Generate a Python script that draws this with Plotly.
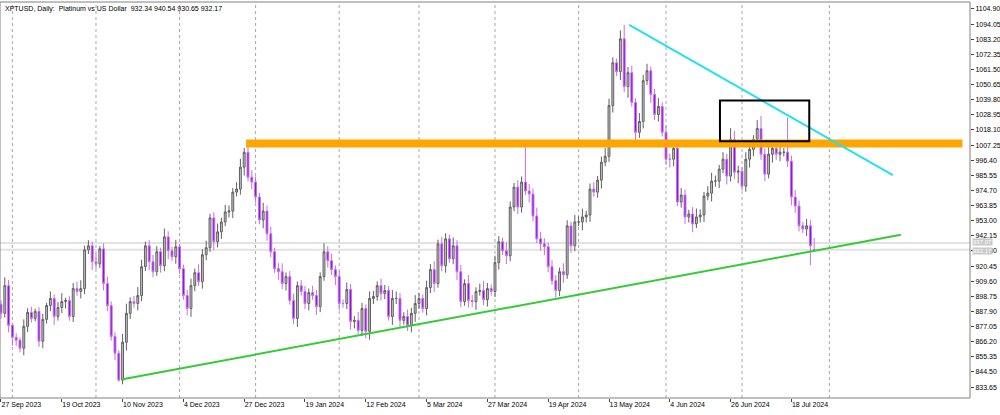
import plotly.graph_objects as go

closes = [
 886.5,906.4,877.9,869.3,867.2,861.5,877.2,887.2,882.9,887.9,
 866.5,882.2,892.1,897.2,884.3,890.7,895.0,895.7,884.3,904.3,
 902.2,904.3,932.1,935.0,923.6,922.1,932.8,907.9,892.1,870.0,
 857.9,838.6,865.8,886.5,895.0,893.6,899.3,920.0,935.0,923.6,
 916.4,930.7,920.7,941.4,931.4,927.1,934.3,918.6,899.3,890.0,
 906.4,915.7,909.3,928.6,933.6,955.0,937.9,945.0,952.1,959.3,
 959.9,973.5,975.7,991.4,1002.1,984.2,980.7,970.0,953.5,959.9,
 943.6,930.7,918.6,916.4,907.9,912.9,895.7,882.9,906.4,902.2,
 893.6,901.4,899.3,891.4,912.9,930.7,924.3,917.9,912.9,893.6,
 893.6,903.6,880.7,881.5,874.3,890.0,873.6,897.2,898.6,906.4,
 900.7,902.9,884.3,897.2,897.2,881.5,884.3,877.9,886.5,893.6,
 897.2,890.0,905.0,917.9,907.9,936.4,920.7,940.0,925.7,935.0,
 916.4,895.0,907.9,895.7,895.0,902.2,902.9,896.4,904.3,902.2,
 922.9,937.9,931.4,927.9,962.8,977.1,962.8,980.7,974.3,972.1,
 956.4,940.0,936.4,934.3,920.0,910.0,902.9,916.4,914.3,949.3,
 935.0,952.1,952.1,955.7,957.1,975.7,973.5,982.1,995.0,999.2,
 1035.6,1066.3,1059.9,1083.5,1049.2,1059.2,1037.8,1016.4,1024.2,1053.5,
 1060.6,1043.5,1029.2,1034.9,1016.4,997.1,997.1,1004.9,966.4,971.4,
 955.7,957.8,950.7,955.7,957.1,970.7,972.8,981.4,981.4,990.0,
 997.1,985.0,1011.4,987.8,988.5,977.8,997.1,1004.2,1011.4,1019.2,
 1000.7,986.4,1000.7,1004.9,1000.7,1002.1,1002.1,995.7,970.0,963.5,
 949.3,947.1,949.3,935.0,932.17]

upper_wick = [
 3,6,4,2,3,2,5,3,4,2, 3,4,2,5,3,4,6,2,3,4, 5,6,3,4,3,6,2,4,5,3,
 3,2,6,7,3,4,6,5,3,4, 5,4,3,6,4,3,5,2,3,4, 5,3,6,4,5,3,4,6,3,5,
 4,3,5,6,3,7,5,4,3,6, 4,5,3,4,6,3,4,5,3,4, 4,3,5,4,3,6,4,5,3,4,
 3,5,4,3,6,4,3,5,4,3, 5,4,3,6,5,4,3,5,4,6, 4,3,5,4,6,3,5,4,3,6,
 4,5,3,6,4,3,5,7,4,3, 5,4,3,6,4,3,5,4,25,5, 4,6,5,4,3,5,4,3,6,4,
 3,5,4,6,3,4,5,3,4,6, 5,4,3,6,10,4,5,3,6,4, 5,3,4,6,3,5,4,6,3,5,
 4,3,5,6,4,3,5,6,4,3, 5,4,8,6,4,3,5,4,3,6, 9,4,5,3,6,4,3,25,4,5,
 4,3,5,4,8.2]
lower_wick = [
 4,3,5,6,4,3,5,4,3,2, 4,5,3,4,6,3,4,5,3,4, 3,5,4,3,6,4,3,5,4,3,
 5,1,3,6,4,3,5,4,3,6, 4,3,5,4,6,3,5,4,3,5, 6,4,3,5,4,3,6,4,5,3,
 4,5,3,4,6,3,5,4,3,6, 5,4,3,6,4,5,3,4,6,3, 4,5,3,6,4,3,5,4,6,5,
 3,4,6,5,3,4,5,6,4,3, 5,4,3,6,4,5,3,4,5,6, 4,3,5,4,6,3,4,5,3,4,
 6,4,3,5,4,6,3,4,5,3, 4,5,3,6,4,3,5,4,3,6, 4,3,5,6,4,3,5,4,6,3,
 5,4,3,6,4,5,3,4,6,3, 4,5,3,6,4,8,3,9,4,5, 3,6,4,5,3,4,6,5,3,4,
 5,4,6,3,4,5,3,6,4,5, 3,6,4,5,8,3,4,6,5,3, 4,5,3,6,4,5,3,4,6,5,
 4,3,5,14,1.52]
first_open = 893.0
last_open = 932.34

date_ticks = [0,16,32,48,64,80,96,112,128,144,160,176,192,208]
date_labels = ["27 Sep 2023","19 Oct 2023","10 Nov 2023","4 Dec 2023","27 Dec 2023",
               "19 Jan 2024","12 Feb 2024","5 Mar 2024","27 Mar 2024","19 Apr 2024",
               "13 May 2024","4 Jun 2024","26 Jun 2024","18 Jul 2024"]
month_grid = [3,25,47,67,89,110,130,152,175,195,218]
price_ticks = [833.65,844.50,855.35,866.20,877.05,887.90,898.75,909.60,920.45,931.30,
               942.15,953.00,963.85,974.70,985.55,996.40,1007.25,1018.10,1028.95,1039.80,
               1050.65,1061.50,1072.35,1083.20,1094.05,1104.90]
title_text = "XPTUSD, Daily:  Platinum vs US Dollar  932.34 940.54 930.65 932.17"
bid, ask = 932.17, 937.07

orange_level = [64.5, 253.0, 1008.3]
cyan_line = [165.3, 1093.5, 234.7, 985.7]
green_line = [32.0, 839.3, 236.8, 942.9]
box = [189.2, 212.7, 1010.0, 1039.2]

opens = [first_open] + closes[:-1]
opens[-1] = last_open
highs = [max(o, c) + w for o, c, w in zip(opens, closes, upper_wick)]
lows = [min(o, c) - w for o, c, w in zip(opens, closes, lower_wick)]
xs = list(range(len(closes)))

fig = go.Figure()
fig.add_trace(go.Candlestick(
    x=xs, open=opens, high=highs, low=lows, close=closes,
    increasing=dict(line=dict(color="#606060", width=1), fillcolor="#c4c4c4"),
    decreasing=dict(line=dict(color="#c070e8", width=1), fillcolor="#9000d8"),
    whiskerwidth=0, showlegend=False, hoverinfo="skip"))

shapes = []
for g in month_grid:
    shapes.append(dict(type="line", xref="x", yref="paper", x0=g, x1=g, y0=0, y1=1,
                       line=dict(color="#a8a8a8", width=1, dash="dot"), layer="below"))
for p in (ask, bid):
    shapes.append(dict(type="line", xref="paper", yref="y", x0=0, x1=1, y0=p, y1=p,
                       line=dict(color="#e2e2e2", width=2), layer="below"))
shapes.append(dict(type="line", x0=orange_level[0], x1=orange_level[1], y0=orange_level[2],
                   y1=orange_level[2], line=dict(color="#FFA500", width=8)))
shapes.append(dict(type="line", x0=cyan_line[0], y0=cyan_line[1], x1=cyan_line[2], y1=cyan_line[3],
                   line=dict(color="#22E0F0", width=2)))
shapes.append(dict(type="line", x0=green_line[0], y0=green_line[1], x1=green_line[2], y1=green_line[3],
                   line=dict(color="#33CC33", width=2)))
shapes.append(dict(type="rect", x0=box[0], x1=box[1], y0=box[2], y1=box[3],
                   line=dict(color="black", width=2)))
shapes.append(dict(type="rect", xref="paper", yref="paper", x0=0, x1=1, y0=0, y1=1,
                   line=dict(color="#808080", width=1)))

ann = [dict(xref="paper", yref="paper", x=0.003, y=0.998, xanchor="left", yanchor="top",
            text=title_text, showarrow=False, font=dict(size=7, color="black"))]
for p, yshift in ((ask, 1), (bid, -1)):
    ann.append(dict(xref="paper", yref="y", x=1.002, y=p, xanchor="left", yanchor="middle",
                    text=f"{p:.2f}", showarrow=False, bgcolor="#c8c8c8", yshift=yshift,
                    font=dict(size=6, color="white"), borderpad=0))

fig.update_layout(
    width=1000, height=415, paper_bgcolor="white", plot_bgcolor="white",
    margin=dict(l=0, r=30, t=2, b=17, autoexpand=False),
    font=dict(family="Liberation Sans", size=7, color="black"),
    shapes=shapes, annotations=ann,
    xaxis=dict(range=[-0.26, 255.0], rangeslider=dict(visible=False), showgrid=False,
               tickvals=date_ticks, ticktext=date_labels, ticks="outside", ticklen=3,
               ticklabelposition="outside right", tickfont=dict(size=7), zeroline=False,
               automargin=False),
    yaxis=dict(range=[825.8, 1109.9], side="right", showgrid=False, tickvals=price_ticks,
               ticktext=[f"{v:.2f}" for v in price_ticks], ticks="outside", ticklen=3,
               tickfont=dict(size=7), zeroline=False, automargin=False),
)
fig.write_html("out.html", config={"displayModeBar": False},
               post_script="document.body.style.margin='0';document.body.style.overflow='hidden';")
